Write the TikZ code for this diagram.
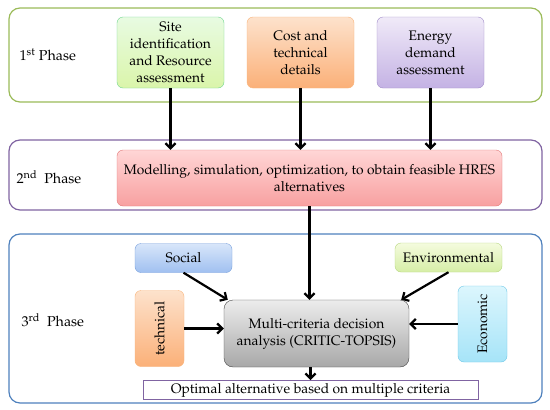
\documentclass[tikz,border=0pt]{standalone}
\usepackage[T1]{fontenc}
\usepackage{mathpazo}
\usepackage{graphicx}
\usetikzlibrary{arrows.meta,positioning}
\definecolor{phaseone}{HTML}{9BBB59}
\definecolor{phasetwo}{HTML}{8064A2}
\definecolor{phasethree}{HTML}{4F81BD}

\begin{document}
\begin{tikzpicture}[x=1pt, y=-1pt,
  font=\fontsize{13.8}{17}\selectfont,
  phase/.style = {draw, line width=1.2pt, rounded corners=11pt, fill=white},
  plabel/.style= {anchor=west, font=\fontsize{14.3}{17}\selectfont},
  box/.style   = {draw, rounded corners=6pt, align=center, inner sep=1pt},
  greenbox/.style  = {box, draw={rgb,255:red,111;green,214;blue,143}, top color={rgb,255:red,232;green,251;blue,226}, bottom color={rgb,255:red,218;green,245;blue,170}},
  orangebox/.style = {box, draw={rgb,255:red,249;green,180;blue,122}, top color={rgb,255:red,253;green,226;blue,204}, bottom color={rgb,255:red,251;green,176;blue,120}},
  violetbox/.style = {box, draw={rgb,255:red,160;green,140;blue,200}, top color={rgb,255:red,240;green,234;blue,248}, bottom color={rgb,255:red,196;green,178;blue,228}},
  redbox/.style    = {box, draw={rgb,255:red,226;green,120;blue,120}, top color={rgb,255:red,255;green,214;blue,214}, bottom color={rgb,255:red,248;green,160;blue,160}},
  bluebox/.style   = {box, draw={rgb,255:red,120;green,160;blue,220}, top color={rgb,255:red,216;green,230;blue,250}, bottom color={rgb,255:red,160;green,192;blue,240}},
  limebox/.style   = {box, draw={rgb,255:red,184;green,216;blue,130}, top color={rgb,255:red,244;green,251;blue,222}, bottom color={rgb,255:red,214;green,238;blue,166}},
  cyanbox/.style   = {box, draw={rgb,255:red,110;green,200;blue,232}, top color={rgb,255:red,220;green,246;blue,253}, bottom color={rgb,255:red,166;green,228;blue,248}},
  greybox/.style   = {box, draw={rgb,255:red,70;green,70;blue,70}, top color={rgb,255:red,236;green,236;blue,236}, bottom color={rgb,255:red,168;green,168;blue,168}},
  arr/.style   = {-{Straight Barb[length=5pt,width=10pt]}, line width=2.2pt}
]
\useasboundingbox (0,0) rectangle (550,410);

% phase frames
\node[phase, draw=phaseone, minimum width=533pt, minimum height=94pt] (frameA) at (275.5,55) {};
\node[phase, draw=phasetwo, minimum width=533pt, minimum height=70pt] (frameB) at (275.5,175) {};
\node[phase, draw=phasethree, minimum width=533pt, minimum height=169pt] (frameC) at (275.5,318.5) {};

\node[plabel] (labA) at (16,55) {1\textsuperscript{st} Phase};
\node[plabel] (labB) at (13,177) {2\textsuperscript{nd}\ \ Phase};
\node[plabel] (labC) at (18,320) {3\textsuperscript{rd}\ \ Phase};

% 1st phase
\node[greenbox, minimum width=107pt, minimum height=71pt] (site) at (170.5,52.5)
     {Site\\ identification\\ and Resource\\ assessment};
\node[orangebox, minimum width=107pt, minimum height=71pt] (cost) at (300.5,52.5)
     {Cost and\\ technical\\ details};
\node[violetbox, minimum width=107pt, minimum height=71pt] (demand) at (430.5,52.5)
     {Energy\\ demand\\ assessment};

% 2nd phase
\node[redbox, minimum width=385pt, minimum height=56pt] (model) at (309.5,178)
     {Modelling, simulation, optimization, to obtain feasible HRES\\ alternatives};

% 3rd phase
\node[bluebox, minimum width=97pt, minimum height=29pt] (social) at (183.5,258) {Social};
\node[limebox, minimum width=107pt, minimum height=29pt] (environ) at (448.5,257.5) {Environmental};
\node[orangebox, minimum width=49pt, minimum height=76pt] (techn) at (159.5,328.5) {\rotatebox{90}{technical}};
\node[cyanbox, minimum width=49pt, minimum height=76pt] (econ) at (482.5,324) {\rotatebox{90}{Economic}};
\node[greybox, rounded corners=9pt, minimum width=185pt, minimum height=67pt] (mcda) at (316.5,333.5)
     {Multi-criteria decision\\ analysis (CRITIC-TOPSIS)};
\node[draw=phasetwo, line width=1pt, fill=white, minimum width=335pt, minimum height=19pt, inner sep=1pt] (optimal) at (310.5,390)
     {Optimal alternative based on multiple criteria};

% connectors
\draw[arr] (site.south) -- (site.south |- model.north);
\draw[arr] (cost.south) -- (cost.south |- model.north);
\draw[arr] (demand.south) -- (demand.south |- model.north);
\draw[arr] (model.south) -- (model.south |- mcda.north);
\draw[arr] (social.south) -- ([xshift=4pt]mcda.north west);
\draw[arr] (environ.south) -- ([xshift=-8pt]mcda.north east);
\draw[arr] (techn.east) -- (techn.east -| mcda.west);
\draw[arr] (econ.west) -- (econ.west -| mcda.east);
\draw[arr] (optimal.north |- mcda.south) -- (optimal.north);

\end{tikzpicture}
\end{document}
